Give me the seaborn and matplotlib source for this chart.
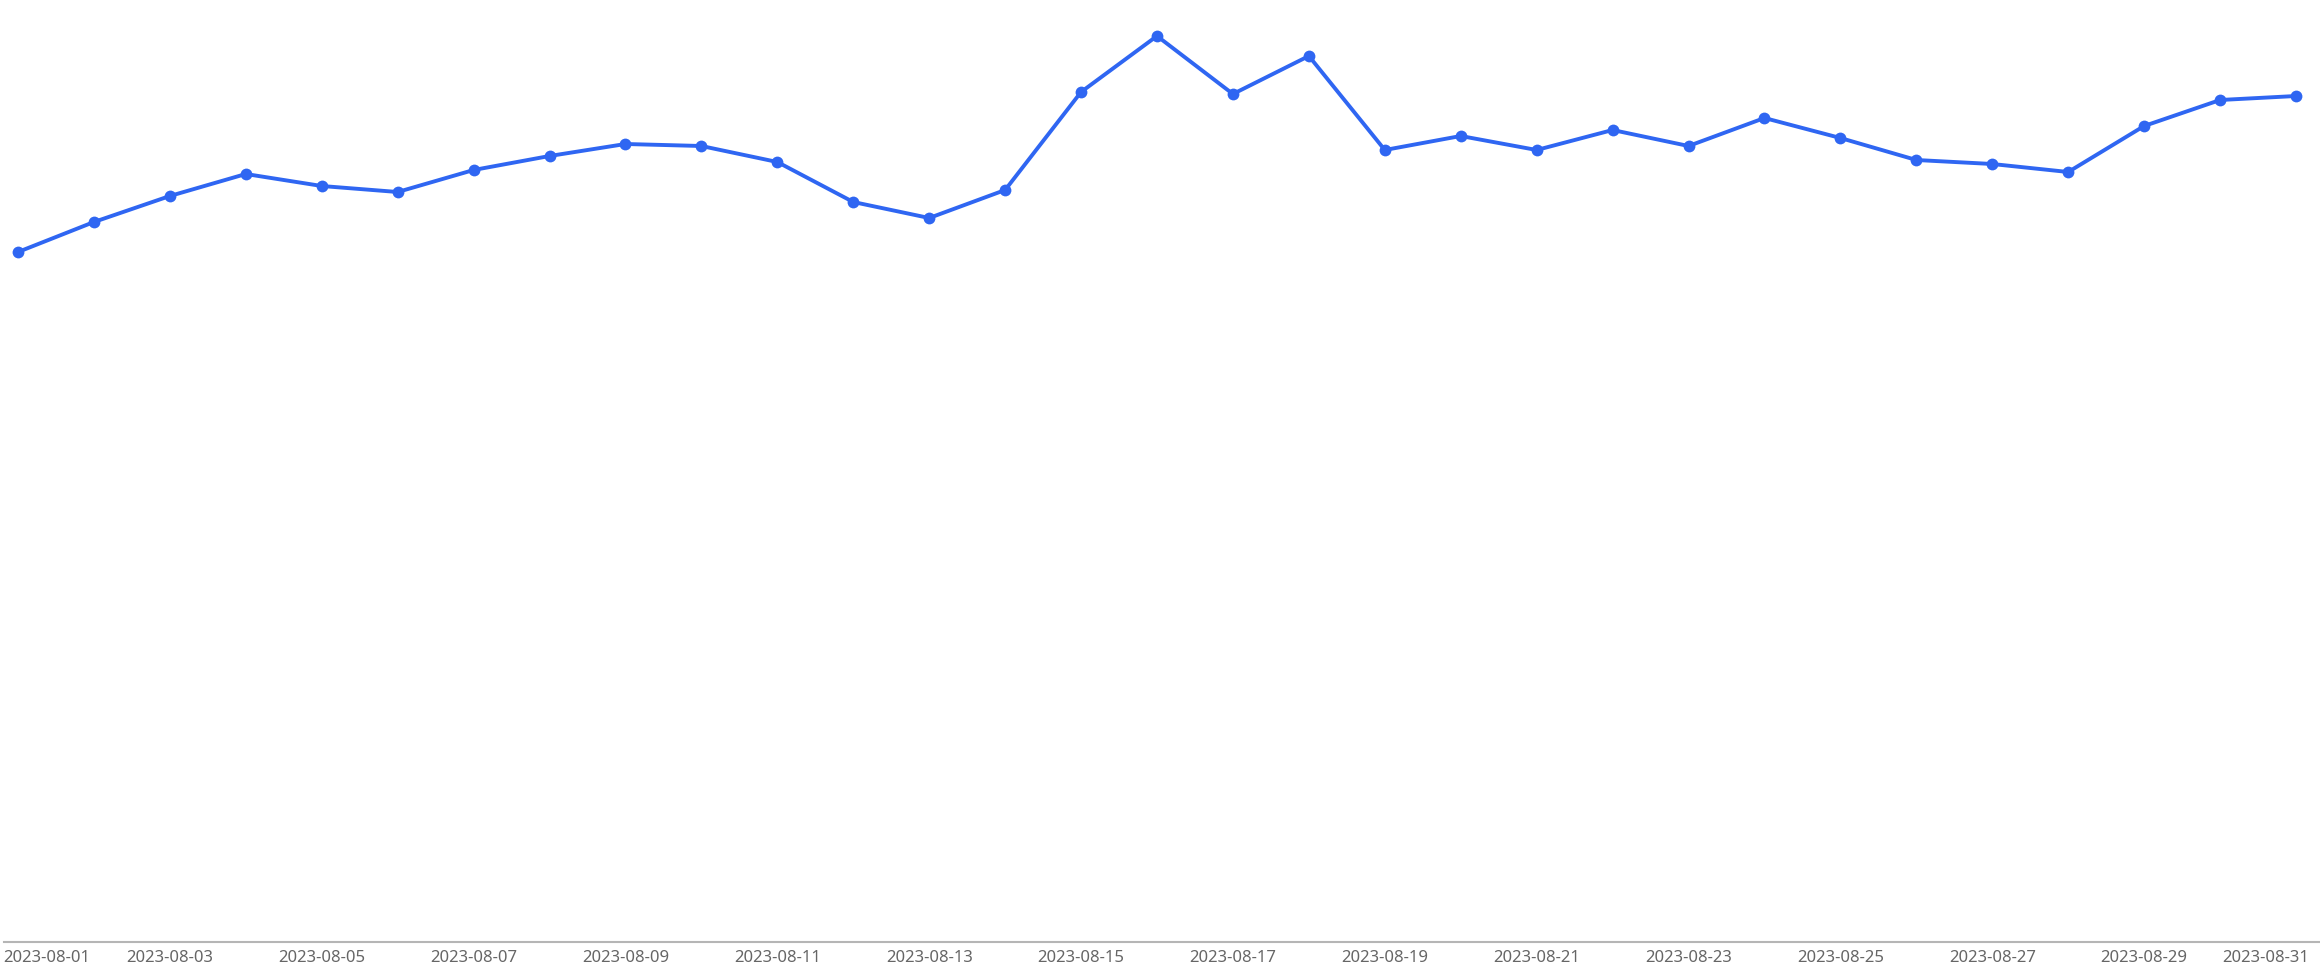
import pandas as pd
import matplotlib
matplotlib.use("Agg")
import matplotlib.pyplot as plt
import matplotlib.transforms as mtransforms
import seaborn as sns

# Data
dates = pd.date_range("2023-08-01", "2023-08-31", freq="D")
values = [345, 360, 373, 384, 378, 375, 386, 393, 399, 398,
          390, 370, 362, 376, 425, 453, 424, 443, 396, 403,
          396, 406, 398, 412, 402, 391, 389, 385, 408, 421, 423]
tick_days = [1, 3, 5, 7, 9, 11, 13, 15, 17, 19, 21, 23, 25, 27, 29, 31]

LINE_COLOR = "#2f66f2"

def plot_graph(df):
    sns.set_style("white")
    plt.rcParams['font.family'] = ['Noto Sans', 'DejaVu Sans']

    fig = plt.figure(figsize=(23.2, 9.72), dpi=100)
    ax = fig.add_axes([4 / 2320, 1 - 942 / 972, 1 - 4 / 2320, 942 / 972])

    sns.lineplot(data=df, x='day', y='value', ax=ax, color=LINE_COLOR,
                 linewidth=2.8, marker='o', markersize=8.5,
                 markeredgewidth=0, markeredgecolor=LINE_COLOR)

    ax.set_xlim(1 - 14 / 75.93, 31 + 24 / 75.93)
    ax.set_ylim(0, 471)

    for side in ['top', 'right', 'left']:
        ax.spines[side].set_visible(False)
    ax.spines['bottom'].set_color('#b5b5b5')
    ax.spines['bottom'].set_linewidth(1.5)

    ax.set_yticks([])
    ax.set_xticks(tick_days)
    ax.set_xticklabels([f"2023-08-{d:02d}" for d in tick_days])
    ax.tick_params(axis='x', length=0, pad=6, labelsize=12, labelcolor='#666666')

    labels = ax.get_xticklabels()
    labels[0].set_horizontalalignment('left')
    labels[0].set_transform(labels[0].get_transform() +
                            mtransforms.ScaledTranslation(-15 / 100, 0, fig.dpi_scale_trans))
    labels[-1].set_horizontalalignment('right')
    labels[-1].set_transform(labels[-1].get_transform() +
                             mtransforms.ScaledTranslation(13 / 100, 0, fig.dpi_scale_trans))

    ax.set_xlabel('')
    ax.set_ylabel('')
    fig.savefig("out.png", dpi=100)

def main():
    df = pd.DataFrame({'day': dates.day, 'value': values})
    plot_graph(df)

if __name__ == "__main__":
    main()
